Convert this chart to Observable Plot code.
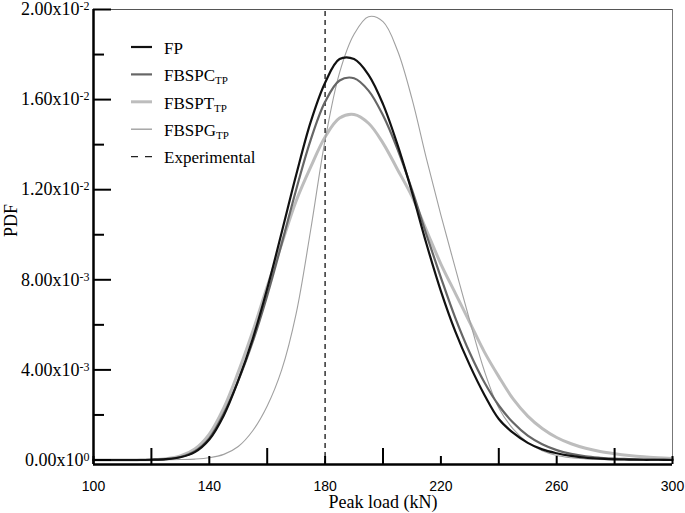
<!DOCTYPE html>
<html><head><meta charset="utf-8">
<script src="https://cdn.jsdelivr.net/npm/d3@7"></script>
<script src="https://cdn.jsdelivr.net/npm/@observablehq/plot@0.6"></script>
<style>body{margin:0;background:#fff} svg{display:block}</style>
</head><body><div id="chart"></div>
<script>
// ---- data ----
const loads = [100,105,110,115,120,125,130,135,140,145,150,155,160,165,170,175,180,185,190,195,200,205,210,215,220,225,230,235,240,245,250,255,260,265,270,275,280,285,290,295,300];
const fpPdf = [0,0,0,0,0.00001,0.000035,0.00012,0.00035,0.00091,0.00198,0.00353,0.00538,0.0076,0.0101,0.01265,0.0150,0.01675,0.0178,0.0178,0.0171,0.0158,0.0140,0.0119,0.0096,0.0075,0.0057,0.0042,0.0029,0.00182,0.00120,0.00076,0.00047,0.0003,0.00018,0.0001,0.00006,0.00003,0.00002,0.00001,0.00001,0];
const fbspcPdf = [0,0,0,0,0.00001,0.00004,0.000134,0.00039,0.00097,0.00207,0.00352,0.00525,0.0073,0.0096,0.0120,0.0142,0.0159,0.01685,0.01695,0.0164,0.0153,0.0138,0.0120,0.0100,0.0081,0.0063,0.00475,0.00345,0.00242,0.00165,0.00108,0.0007,0.00044,0.00027,0.00016,0.0001,0.00006,0.00004,0.00002,0.00001,0.00001];
const fbsptPdf = [0,0,0,0.000005,0.000016,0.000057,0.00018,0.00049,0.00115,0.00231,0.0039,0.0057,0.0077,0.0096,0.0115,0.0130,0.01434,0.01518,0.01534,0.01495,0.01407,0.0129,0.0117,0.0102,0.0087,0.0074,0.0061,0.0048,0.0037,0.0027,0.00195,0.0014,0.001,0.00072,0.00052,0.00038,0.00028,0.0002,0.00014,0.0001,0.00007];
const fbspgPdf = [0,0,0,0,0,0.00001,0.00002,0.00004,0.0001,0.00025,0.0006,0.0013,0.0024,0.0040,0.0065,0.0102,0.0142,0.0172,0.0189,0.01968,0.01946,0.01818,0.01604,0.01338,0.01087,0.00851,0.00617,0.00396,0.00231,0.00137,0.00077,0.00041,0.0002,0.0001,0.00005,0.00002,0.00001,0,0,0,0];
const seriesNames = ["FP", "FBSPC", "FBSPT", "FBSPG"];
const seriesSubscripts = ["", "TP", "TP", "TP"];
const experimentalLoad = [180];
const experimentalName = "Experimental";
const xTickValues = [100, 140, 180, 220, 260, 300];
const xMinorTicks = [120, 160, 200, 240, 280];
const yTickValues = [0, 0.004, 0.008, 0.012, 0.016, 0.02];
const yTickLabels = ["0.00x10^0", "4.00x10^-3", "8.00x10^-3", "1.20x10^-2", "1.60x10^-2", "2.00x10^-2"];
const yMinorTicks = [0.002, 0.006, 0.01, 0.014, 0.018];
const xTitle = "Peak load (kN)";
const yTitle = "PDF";

// ---- styles ----
const serif = "'Liberation Serif', 'Times New Roman', serif";
const sans = "'Liberation Sans', Arial, sans-serif";
const seriesStyle = {
  FP:    {stroke: "#111111", strokeWidth: 2.2},
  FBSPC: {stroke: "#666666", strokeWidth: 2.2},
  FBSPT: {stroke: "#bdbdbd", strokeWidth: 3},
  FBSPG: {stroke: "#a0a0a0", strokeWidth: 1.1}
};
const drawOrder = ["FBSPT", "FBSPG", "FBSPC", "FP"];

const allValues = [fpPdf, fbspcPdf, fbsptPdf, fbspgPdf];
const rows = seriesNames.flatMap((s, k) => loads.map((x, i) => ({series: s, x, y: allValues[k][i]})));
const labelMap = new Map(yTickValues.map((v, i) => [v, yTickLabels[i]]));

const W = 685, H = 513, mL = 93, mR = 13, mT = 9, mB = 49;
const frameW = W - mL - mR, frameH = H - mT - mB;

const svg = Plot.plot({
  width: W, height: H,
  marginLeft: mL, marginRight: mR, marginTop: mT, marginBottom: mB,
  style: {background: "#fff"},
  x: {domain: [100, 300]},
  y: {domain: [-0.0002, 0.02]},
  marks: [
    Plot.ruleY([0.02], {stroke: "#555", strokeWidth: 1}),
    Plot.ruleX([300], {stroke: "#777", strokeWidth: 1}),
    Plot.ruleX(experimentalLoad, {stroke: "#222", strokeWidth: 1.4, strokeDasharray: "5,4", insetTop: 2}),
    ...drawOrder.map(s => Plot.line(rows.filter(r => r.series === s), {x: "x", y: "y", curve: "catmull-rom", ...seriesStyle[s]})),
    Plot.tickY(yTickValues, {y: d => d, stroke: "#000", strokeWidth: 2, insetRight: frameW - 18}),
    Plot.tickY(yMinorTicks, {y: d => d, stroke: "#000", strokeWidth: 2, insetRight: frameW - 11}),
    Plot.tickX(xMinorTicks, {x: d => d, stroke: "#000", strokeWidth: 2, insetTop: frameH - 16}),
    Plot.tickX(xTickValues, {x: d => d, stroke: "#000", strokeWidth: 2, insetTop: frameH - 8}),
    Plot.ruleX([100], {stroke: "#000", strokeWidth: 2.5}),
    Plot.ruleY([-0.0002], {stroke: "#000", strokeWidth: 2.5}),
    Plot.axisY(yTickValues, {tickSize: 0, tickPadding: 4, tickFormat: d => labelMap.get(d), fontSize: 18, fontFamily: serif, fill: "#000", label: null}),
    Plot.axisX(xTickValues, {tickSize: 0, tickPadding: 17, tickFormat: d => String(d), fontSize: 14, fontFamily: sans, fill: "#000", label: null}),
    Plot.text([xTitle], {frameAnchor: "bottom", dy: 43, fontSize: 18, fontFamily: serif, fill: "#000"}),
    Plot.text([yTitle], {frameAnchor: "left", dx: -82, rotate: -90, fontSize: 18, fontFamily: serif, fill: "#000"})
  ]
});

// superscripts in y tick labels
d3.select(svg).selectAll("text").each(function () {
  const t = this.textContent;
  if (t.includes("^")) {
    const [base, exp] = t.split("^");
    const sel = d3.select(this);
    sel.text(null);
    sel.append("tspan").text(base);
    sel.append("tspan").attr("dy", "-0.42em").attr("font-size", "12px").text(exp);
  }
});

// legend
const lg = d3.select(svg).append("g").attr("font-family", serif).attr("font-size", 17).attr("text-anchor", "start");
const legendItems = seriesNames.map((s, i) => ({name: s, sub: seriesSubscripts[i], ...seriesStyle[s], dash: null}))
  .concat([{name: experimentalName, sub: "", stroke: "#222", strokeWidth: 1.4, dash: "7,7"}]);
legendItems.forEach((d, i) => {
  const y = 47 + i * 27.4;
  lg.append("line").attr("x1", 131).attr("x2", 152).attr("y1", y).attr("y2", y)
    .attr("stroke", d.stroke).attr("stroke-width", Math.max(d.strokeWidth, 1.4)).attr("stroke-dasharray", d.dash);
  const t = lg.append("text").attr("x", 164).attr("y", y + 6.8).attr("fill", "#000").attr("text-anchor", "start");
  t.append("tspan").text(d.name);
  if (d.sub) t.append("tspan").attr("dy", 3).attr("font-size", 11).text(d.sub);
});

document.getElementById("chart").appendChild(svg);
</script>
</body></html>
